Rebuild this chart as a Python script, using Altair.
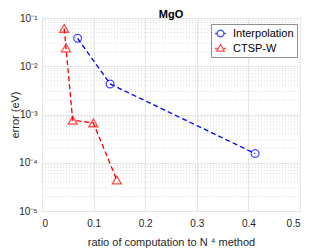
import altair as alt
import pandas as pd

series = ["Interpolation", "CTSP-W"]
interp_x = [0.069, 0.132, 0.413]
interp_y = [0.038, 0.0043, 0.000155]
ctsp_x = [0.043, 0.0465, 0.0595, 0.0995, 0.145]
ctsp_y = [0.061, 0.024, 0.00076, 0.00067, 0.000044]

major_y = [1e-5, 1e-4, 1e-3, 1e-2, 1e-1]
major_labels = ["10⁻⁵", "10⁻⁴", "10⁻³", "10⁻²", "10⁻¹"]
x_ticks = [0, 0.1, 0.2, 0.3, 0.4, 0.5]
minor_y = [m * 10 ** e for e in range(-5, -1) for m in range(2, 10)]

df = pd.DataFrame(
    {"x": interp_x + ctsp_x,
     "y": interp_y + ctsp_y,
     "s": [series[0]] * len(interp_x) + [series[1]] * len(ctsp_x)}
)
minor_df = pd.DataFrame({"y": minor_y})

label_expr = " : ".join(
    f"datum.value == {v} ? '{l}'" for v, l in zip(major_y, major_labels)
) + " : ''"

# legend glyphs: short line with the marker in the middle (MATLAB style)
legend_circle = "M-1,0H-0.62M0.62,0H1M0.62,0A0.62,0.62 0 1,1 -0.62,0A0.62,0.62 0 1,1 0.62,0"
legend_tri = "M-1,0H-0.6M0.6,0H1M0,-0.72L0.68,0.46L-0.68,0.46Z"

xs = alt.Scale(domain=[0, 0.5], nice=False)
ys = alt.Scale(type="log", domain=[1e-5, 1e-1], nice=False)
cscale = alt.Scale(domain=series, range=["#0000ff", "#ff0000"])
leg = alt.Legend(title=None, orient="none", legendX=169, legendY=6)

minor = alt.Chart(minor_df).mark_rule(color="#cfcfcf", strokeDash=[1, 2], strokeWidth=0.8).encode(
    y=alt.Y("y:Q", scale=ys),
    x=alt.value(0), x2=alt.value(258),
)

line = alt.Chart(df).mark_line(strokeDash=[5, 3], strokeWidth=1.3).encode(
    x=alt.X("x:Q", scale=xs,
            axis=alt.Axis(values=x_ticks, format="~g", title="ratio of computation to N ⁴ method",
                          grid=True, ticks=False, domain=False, labelPadding=7, titlePadding=8)),
    y=alt.Y("y:Q", scale=ys,
            axis=alt.Axis(values=major_y, labelExpr=label_expr, title="error (eV)",
                          grid=True, ticks=False, domain=False, labelPadding=5, titlePadding=-2)),
    color=alt.Color("s:N", scale=cscale, legend=leg),
    detail="s:N",
)

pts_i = alt.Chart(df).transform_filter(alt.datum.s == series[0]).mark_point(
    shape="circle", filled=False, size=60, strokeWidth=1.3).encode(
    x=alt.X("x:Q", scale=xs), y=alt.Y("y:Q", scale=ys),
    color=alt.Color("s:N", scale=cscale, legend=leg),
)
pts_c = alt.Chart(df).transform_filter(alt.datum.s == series[1]).mark_point(
    shape="triangle-up", filled=False, size=80, strokeWidth=1.3).encode(
    x=alt.X("x:Q", scale=xs), y=alt.Y("y:Q", scale=ys),
    color=alt.Color("s:N", scale=cscale, legend=leg),
)
legend_layer = alt.Chart(df).transform_filter("false").mark_point(
    filled=False, size=121, strokeWidth=1.3).encode(
    x=alt.X("x:Q", scale=xs), y=alt.Y("y:Q", scale=ys),
    color=alt.Color("s:N", scale=cscale, legend=leg),
    shape=alt.Shape("s:N", scale=alt.Scale(domain=series, range=[legend_circle, legend_tri]), legend=leg),
)

chart = alt.layer(minor, line, pts_i, pts_c, legend_layer).properties(
    width=258, height=193,
    title=alt.Title("MgO", fontSize=11, fontWeight="bold", font="Liberation Sans", offset=3,
                    color="#000", frame="group", dy=10),
    autosize=alt.AutoSizeParams(type="none"),
    padding={"left": 34, "top": 10, "right": 24, "bottom": 40},
).configure_view(
    stroke="#8f8f8f", strokeWidth=1
).configure_axis(
    labelFont="Liberation Sans", titleFont="Liberation Sans",
    labelFontSize=10, titleFontSize=11, labelColor="#262626", titleColor="#262626",
    titleFontWeight="normal", gridColor="#e6e6e6",
).configure_legend(
    labelFont="Liberation Sans", labelFontSize=11, labelColor="#000",
    strokeColor="#8f8f8f", fillColor="white", padding=3, rowPadding=1,
    symbolStrokeWidth=1.3, symbolSize=121, cornerRadius=0, labelOffset=6,
)

chart.save("out.html", embed_options={"renderer": "svg", "actions": False})
